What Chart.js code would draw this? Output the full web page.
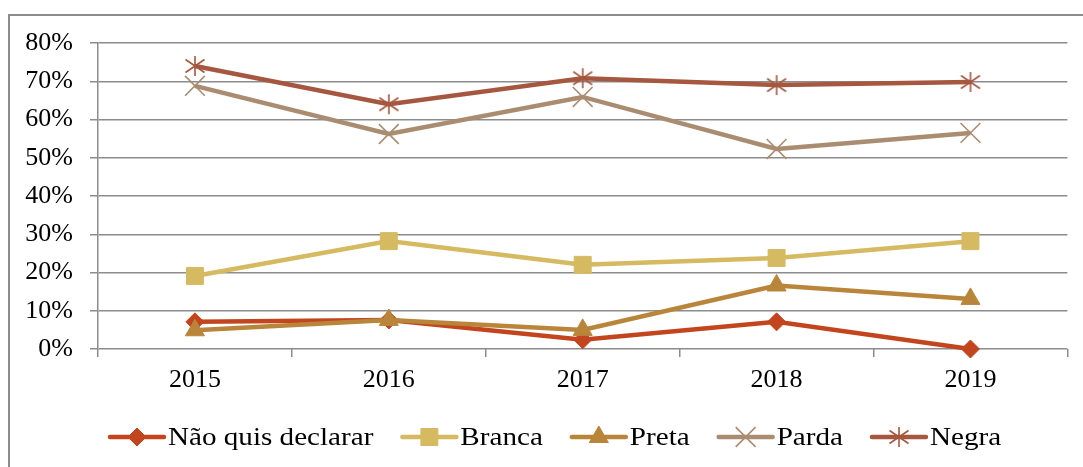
<!DOCTYPE html>
<html>
<head>
<meta charset="utf-8">
<script src="https://cdn.jsdelivr.net/npm/chart.js@4"></script>
<style>
  html, body { margin: 0; padding: 0; background: #fff; }
  #wrap { position: relative; width: 1083px; height: 467px; }
</style>
</head>
<body>
<div id="wrap"><canvas id="chart" width="1083" height="467"></canvas></div>
<script>
const years = ["2015", "2016", "2017", "2018", "2019"];
const seriesNames = ["Não quis declarar", "Branca", "Preta", "Parda", "Negra"];
const naoQuis = [7.1, 7.6, 2.4, 7.1, 0];
const branca = [19.1, 28.2, 22.0, 23.8, 28.2];
const preta = [4.9, 7.6, 5.0, 16.6, 13.1];
const parda = [68.8, 56.2, 65.9, 52.3, 56.5];
const negra = [74.0, 64.0, 70.8, 69.0, 69.8];
const yTicks = [0, 10, 20, 30, 40, 50, 60, 70, 80];

const colors = ["#C2451E", "#D5BA62", "#B9853A", "#AA8C71", "#A5573F"];
const FONT = "'Liberation Serif', 'Times New Roman', serif";

// asterisk marker for "Negra" (vertical bar + X)
function makeAsterisk(color) {
  const c = document.createElement("canvas");
  c.width = 24; c.height = 24;
  const g = c.getContext("2d");
  g.strokeStyle = color;
  g.lineWidth = 1.6;
  g.beginPath();
  g.moveTo(12, 2); g.lineTo(12, 22);
  g.moveTo(2.5, 5.5); g.lineTo(21.5, 18.5);
  g.moveTo(2.5, 18.5); g.lineTo(21.5, 5.5);
  g.stroke();
  return c;
}
const asterisk = makeAsterisk(colors[4]);

const markers = [
  { style: "rectRot", radius: 9, border: 1 },
  { style: "rect", radius: 12, border: 1 },
  { style: "triangle", radius: 11, border: 1 },
  { style: "crossRot", radius: 14, border: 1.6 },
  { style: asterisk, radius: 10, border: 1.6 }
];

const values = [naoQuis, branca, preta, parda, negra];

const datasets = seriesNames.map((name, i) => ({
  label: name,
  data: values[i],
  borderColor: colors[i],
  backgroundColor: colors[i],
  borderWidth: 4.5,
  tension: 0,
  clip: false,
  pointStyle: markers[i].style,
  pointRadius: markers[i].radius,
  pointHoverRadius: markers[i].radius,
  pointBorderWidth: markers[i].border,
  pointBackgroundColor: colors[i],
  pointBorderColor: colors[i],
  order: seriesNames.length - 1 - i   // later series on top
}));

// outer frame (only left and top edges fall inside the picture)
const framePlugin = {
  id: "frame",
  beforeDraw(chart) {
    const ctx = chart.ctx;
    ctx.save();
    ctx.strokeStyle = "#8c8c8c";
    ctx.lineWidth = 2;
    ctx.beginPath();
    ctx.moveTo(9, 467);
    ctx.lineTo(9, 15);
    ctx.lineTo(1083, 15);
    ctx.stroke();
    ctx.restore();
  }
};

// legend: line + marker + text (text a bit wider, like the original face)
const TEXT_STRETCH = 1.12;
const legendPlugin = {
  id: "lineLegend",
  afterDraw(chart) {
    const ctx = chart.ctx;
    const y = 437;
    let x = 110;
    ctx.save();
    ctx.font = "26px " + FONT;
    ctx.textBaseline = "middle";
    ctx.textAlign = "left";
    seriesNames.forEach((name, i) => {
      ctx.strokeStyle = colors[i];
      ctx.fillStyle = colors[i];
      ctx.lineWidth = 4.5;
      ctx.lineCap = "round";
      ctx.beginPath();
      ctx.moveTo(x, y);
      ctx.lineTo(x + 54, y);
      ctx.stroke();
      ctx.lineCap = "butt";
      ctx.lineWidth = markers[i].border;
      Chart.helpers.drawPoint(ctx, {
        pointStyle: markers[i].style,
        radius: markers[i].radius,
        borderWidth: markers[i].border,
        rotation: 0
      }, x + 27, y);
      const tx = x + 58;
      ctx.save();
      ctx.translate(tx, y + 1);
      ctx.scale(TEXT_STRETCH, 1);
      ctx.fillStyle = "#000";
      ctx.fillText(name, 0, 0);
      ctx.restore();
      x = tx + ctx.measureText(name).width * TEXT_STRETCH + 29;
    });
    ctx.restore();
  }
};

new Chart(document.getElementById("chart"), {
  type: "line",
  data: { labels: years, datasets: datasets },
  plugins: [framePlugin, legendPlugin],
  options: {
    responsive: false,
    animation: false,
    layout: { padding: { left: 0, right: 13, top: 43, bottom: 80 } },
    plugins: {
      legend: { display: false },
      tooltip: { enabled: false }
    },
    scales: {
      x: {
        offset: true,
        grid: {
          display: true,
          offset: true,
          drawOnChartArea: false,
          tickLength: 8,
          color: "#8c8c8c",
          lineWidth: 1.5
        },
        border: { display: false },
        ticks: {
          color: "#000",
          font: { family: FONT, size: 26 },
          padding: 8,
          maxRotation: 0
        },
        afterFit(scale) { scale.height = 38; }
      },
      y: {
        min: 0,
        max: 80,
        afterBuildTicks(scale) { scale.ticks = yTicks.map(v => ({ value: v })); },
        grid: {
          color: "#8c8c8c",
          lineWidth: 1.5,
          tickLength: 8
        },
        border: { display: true, color: "#8c8c8c", width: 1.5 },
        ticks: {
          color: "#000",
          font: { family: FONT, size: 26 },
          padding: 17,
          callback: v => v + "%"
        },
        afterFit(scale) { scale.width = 98; }
      }
    }
  }
});
</script>
</body>
</html>
